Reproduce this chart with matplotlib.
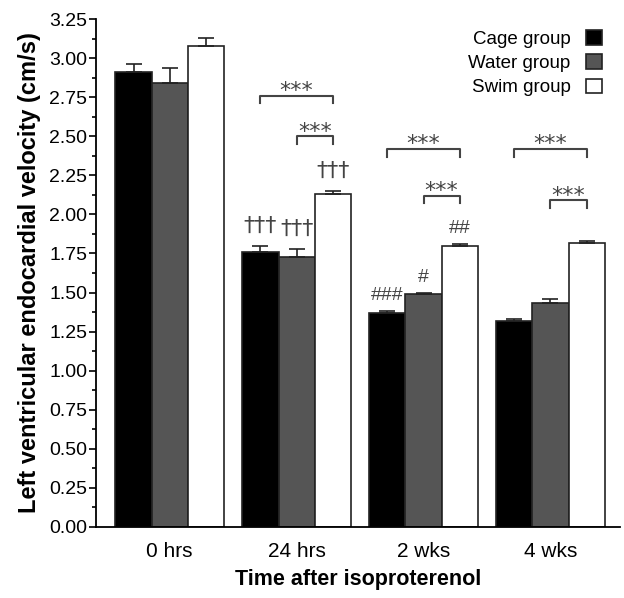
import numpy as np
import matplotlib.pyplot as plt
from matplotlib.ticker import MultipleLocator

plt.rcParams['font.family'] = ['Liberation Sans', 'DejaVu Sans']

times = ['0 hrs', '24 hrs', '2 wks', '4 wks']
groups = ['Cage group', 'Water group', 'Swim group']
cage = [2.91, 1.76, 1.37, 1.32]
cage_err = [0.05, 0.04, 0.01, 0.01]
water = [2.84, 1.73, 1.49, 1.43]
water_err = [0.10, 0.05, 0.01, 0.03]
swim = [3.08, 2.13, 1.80, 1.82]
swim_err = [0.05, 0.02, 0.01, 0.01]

# significance brackets: (time index, from group, to group, height)
brackets = [(1, 0, 2, 2.76), (1, 1, 2, 2.50),
            (2, 0, 2, 2.42), (2, 1, 2, 2.12),
            (3, 0, 2, 2.42), (3, 1, 2, 2.09)]
# marks over bars: (time index, group, text)
marks = [(1, 0, '†††'), (1, 1, '†††'), (1, 2, '†††'),
         (2, 0, '###'), (2, 1, '#'), (2, 2, '##')]

fig = plt.figure(figsize=(6.24, 5.98), dpi=100)
ax = fig.add_axes([0.154, 0.119, 0.84, 0.849])

x = np.arange(len(times))
w = 0.285
vals = [cage, water, swim]
errs = [cage_err, water_err, swim_err]
colors = ['black', '#555555', 'white']
for i in range(3):
    ax.bar(x + (i - 1) * w, vals[i], w, color=colors[i], edgecolor='#222222',
           linewidth=1.2, label=groups[i])
    ax.errorbar(x + (i - 1) * w, vals[i], yerr=[np.zeros(4), errs[i]], fmt='none',
                ecolor='#222222', elinewidth=1.2, capsize=6, capthick=1.2)

for t, g1, g2, h in brackets:
    x1 = t + (g1 - 1) * w
    x2 = t + (g2 - 1) * w
    ax.plot([x1, x1, x2, x2], [h - 0.05, h, h, h - 0.05], color='#444444', lw=1.5)
    ax.text((x1 + x2) / 2, h - 0.01, '***', ha='center', va='baseline',
            fontsize=16, color='#444444', family='DejaVu Sans')

for t, g, s in marks:
    top = vals[g][t] + errs[g][t]
    if '†' in s:
        ax.text(t + (g - 1) * w, top + 0.09, s, ha='center', va='baseline',
                fontsize=16, color='#444444', family='DejaVu Sans')
    else:
        ax.text(t + (g - 1) * w, top + 0.07, s, ha='center', va='baseline',
                fontsize=14, color='#444444')

ax.set_xlim(-0.58, 3.55)
ax.set_ylim(0, 3.25)
ax.set_xticks(x)
ax.set_xticklabels(times, fontsize=15)
ax.tick_params(axis='x', length=0, pad=11)
ax.yaxis.set_major_locator(MultipleLocator(0.25))
ax.yaxis.set_minor_locator(MultipleLocator(0.125))
ax.yaxis.set_major_formatter(plt.FormatStrFormatter('%.2f'))
ax.tick_params(axis='y', which='major', length=5, width=1.2, labelsize=14, pad=1.5)
ax.tick_params(axis='y', which='minor', length=3, width=1.2)
ax.spines['top'].set_visible(False)
ax.spines['right'].set_visible(False)
ax.spines['left'].set_linewidth(1.3)
ax.spines['bottom'].set_linewidth(1.3)

ax.set_xlabel('Time after isoproterenol', fontsize=15.5, fontweight='bold', labelpad=6)
ax.set_ylabel('Left ventricular endocardial velocity (cm/s)', fontsize=17,
              fontweight='bold', labelpad=6)

leg = ax.legend(loc='upper right', markerfirst=False, frameon=False, fontsize=13.5,
                handlelength=0.85, handleheight=0.85, handletextpad=0.85,
                labelspacing=0.33, borderaxespad=0, bbox_to_anchor=(0.98, 0.993))

plt.savefig('out.png', dpi=100)
